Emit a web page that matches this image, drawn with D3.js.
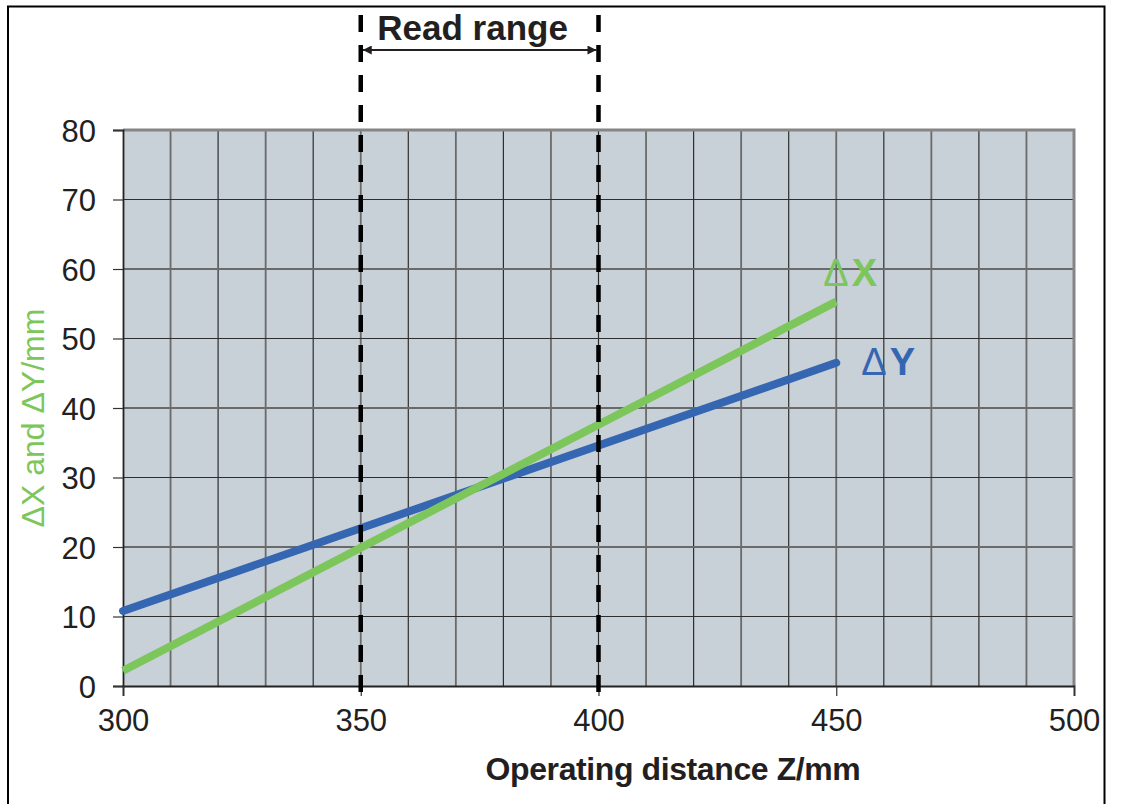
<!DOCTYPE html>
<html>
<head>
<meta charset="utf-8">
<script src="https://cdn.jsdelivr.net/npm/d3@7"></script>
<style>
  body { margin: 0; background: #fff; }
  svg text { font-family: "Liberation Sans", Arial, sans-serif; }
</style>
</head>
<body>
<svg id="chart" width="1121" height="804"></svg>
<script>
// data
const distance = [300, 450];
const deltaX = [2.2, 55.3];
const deltaY = [10.8, 46.5];
const readRange = [350, 400];
const xTicks = [300, 350, 400, 450, 500];
const yTicks = [0, 10, 20, 30, 40, 50, 60, 70, 80];

const margin = { top: 130, left: 123, right: 47, bottom: 118 };
const W = 1121, H = 804;
const width = W - margin.left - margin.right;
const height = H - margin.top - margin.bottom;

const green = "#7cc65b";
const blue = "#3566b1";

const svg = d3.select("#chart");

// outer frame (open at the bottom)
svg.append("path")
  .attr("d", "M8,810 V6.5 H1104.5 V810")
  .attr("fill", "none")
  .attr("stroke", "#000")
  .attr("stroke-width", 2);

const g = svg.append("g").attr("transform", `translate(${margin.left},${margin.top})`);

const x = d3.scaleLinear().domain([300, 500]).range([0, width]);
const y = d3.scaleLinear().domain([0, 80]).range([height, 0]);

g.append("rect")
  .attr("width", width)
  .attr("height", height)
  .attr("fill", "#c8d0d8");

// grid
g.append("g")
  .selectAll("line")
  .data(d3.range(310, 500, 10))
  .join("line")
  .attr("x1", (d) => x(d))
  .attr("x2", (d) => x(d))
  .attr("y1", 0)
  .attr("y2", height)
  .attr("stroke", (d, i) => (i % 2 ? "#2e2e2e" : "#6a6a6a"))
  .attr("stroke-width", (d, i) => (i % 2 ? 1.2 : 1.8));

g.append("g")
  .selectAll("line")
  .data(d3.range(10, 80, 10))
  .join("line")
  .attr("x1", 0)
  .attr("x2", width)
  .attr("y1", (d) => y(d))
  .attr("y2", (d) => y(d))
  .attr("stroke", (d, i) => (i % 2 ? "#6a6a6a" : "#2e2e2e"))
  .attr("stroke-width", (d, i) => (i % 2 ? 1.8 : 1.2));

// grey frame on top and right
g.append("path")
  .attr("d", `M0,0 H${width} V${height}`)
  .attr("fill", "none")
  .attr("stroke", "#858585")
  .attr("stroke-width", 3);

// axes
const yAxis = g.append("g")
  .call(d3.axisLeft(y).tickValues(yTicks).tickSize(10).tickPadding(17));
const xAxis = g.append("g")
  .attr("transform", `translate(0,${height})`)
  .call(d3.axisBottom(x).tickValues(xTicks).tickSize(10).tickPadding(13));

[xAxis, yAxis].forEach((a) => {
  a.select(".domain").attr("stroke", "#222").attr("stroke-width", 1.8);
  a.selectAll(".tick line").attr("stroke", "#333").attr("stroke-width", 1.2);
  a.selectAll(".tick text")
    .attr("font-size", 31)
    .attr("fill", "#231f20")
    .style("font-family", "Liberation Sans, Arial, sans-serif");
});
yAxis.selectAll(".tick text").attr("dy", "0.36em");

// series lines
const line = d3.line().x((d) => x(d[0])).y((d) => y(d[1]));

g.append("path")
  .datum(distance.map((d, i) => [d, deltaY[i]]))
  .attr("d", line)
  .attr("fill", "none")
  .attr("stroke", blue)
  .attr("stroke-width", 8)
  .attr("stroke-linecap", "round");

g.append("path")
  .datum(distance.map((d, i) => [d, deltaX[i]]))
  .attr("d", line)
  .attr("fill", "none")
  .attr("stroke", green)
  .attr("stroke-width", 8)
  .attr("stroke-linecap", "butt");

// series labels
const lblX = g.append("text")
  .attr("x", x(450) - 13)
  .attr("y", y(deltaX[1]) - 16)
  .attr("font-size", 38)
  .attr("fill", green);
lblX.append("tspan").attr("font-weight", "normal").text("Δ");
lblX.append("tspan").attr("font-weight", "bold").attr("dx", 3).text("X");

const lblY = g.append("text")
  .attr("x", x(450) + 25)
  .attr("y", y(deltaY[1]) + 12)
  .attr("font-size", 38)
  .attr("fill", blue);
lblY.append("tspan").attr("font-weight", "normal").text("Δ");
lblY.append("tspan").attr("font-weight", "bold").attr("dx", 3).text("Y");

// read range dashed lines
g.append("g")
  .selectAll("line")
  .data(readRange)
  .join("line")
  .attr("x1", (d) => x(d))
  .attr("x2", (d) => x(d))
  .attr("y1", -margin.top + 15)
  .attr("y2", height + 14)
  .attr("stroke", "#000")
  .attr("stroke-width", 4.5)
  .attr("stroke-dasharray", "17 13");

// read range arrow
svg.append("defs").selectAll("marker")
  .data(["start", "end"])
  .join("marker")
  .attr("id", (d) => "arrow-" + d)
  .attr("viewBox", "0 0 10 10")
  .attr("refX", (d) => (d === "end" ? 10 : 0))
  .attr("refY", 5)
  .attr("markerWidth", 20)
  .attr("markerHeight", 9)
  .attr("markerUnits", "userSpaceOnUse")
  .attr("orient", "auto")
  .append("path")
  .attr("d", (d) => (d === "end" ? "M0,0 L10,5 L0,10 Z" : "M10,0 L0,5 L10,10 Z"))
  .attr("fill", "#231f20");

const arrowY = 50 - margin.top;
g.append("line")
  .attr("x1", x(readRange[0]) + 2)
  .attr("x2", x(readRange[1]) - 2)
  .attr("y1", arrowY)
  .attr("y2", arrowY)
  .attr("stroke", "#231f20")
  .attr("stroke-width", 2)
  .attr("marker-start", "url(#arrow-start)")
  .attr("marker-end", "url(#arrow-end)");

g.append("text")
  .attr("x", (x(readRange[0]) + x(readRange[1])) / 2 - 7)
  .attr("y", 40 - margin.top)
  .attr("text-anchor", "middle")
  .attr("font-size", 35)
  .attr("font-weight", "bold")
  .attr("fill", "#231f20")
  .text("Read range");

// axis titles
svg.append("text")
  .attr("x", 673)
  .attr("y", 780)
  .attr("text-anchor", "middle")
  .attr("font-size", 32)
  .attr("font-weight", "bold")
  .attr("letter-spacing", -0.4)
  .attr("fill", "#231f20")
  .text("Operating distance Z/mm");

svg.append("text")
  .attr("transform", "translate(44,418) rotate(-90)")
  .attr("text-anchor", "middle")
  .attr("font-size", 32)
  .attr("fill", green)
  .text("ΔX and ΔY/mm");
</script>
</body>
</html>
